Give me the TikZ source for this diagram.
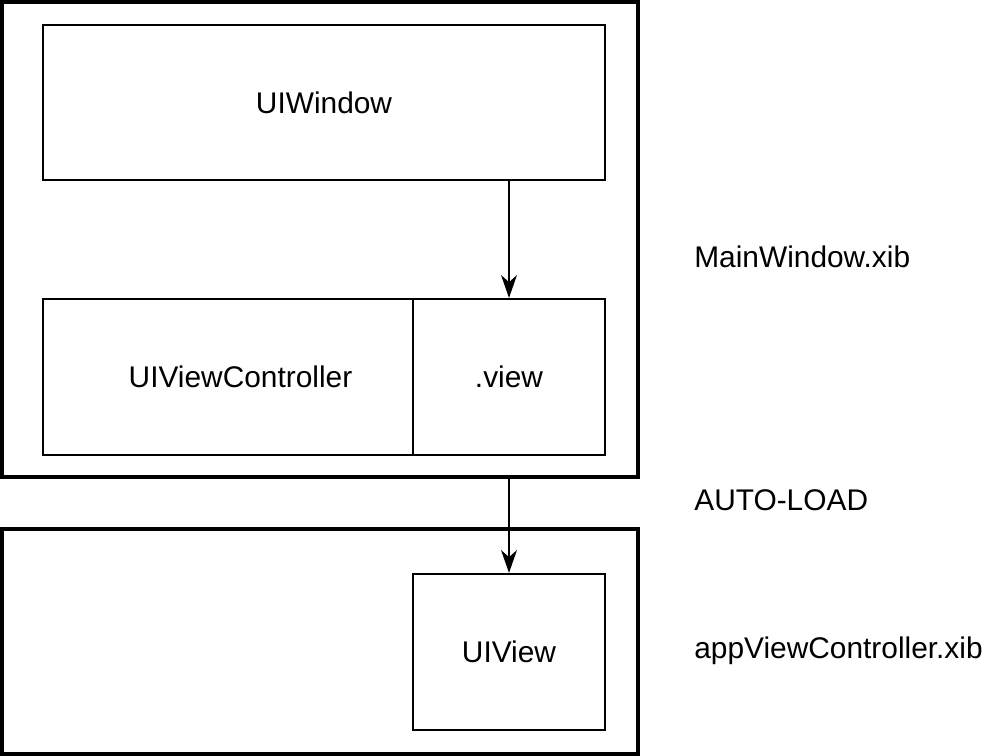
\documentclass[tikz,border=0pt]{standalone}
\usepackage{fontspec}
\setmainfont{Liberation Sans}
\usetikzlibrary{arrows.meta,calc}

\begin{document}
\begin{tikzpicture}[x=0.02cm, y=-0.02cm,
    xibbox/.style={draw, line width=2.3pt, inner sep=0pt},
    objbox/.style={draw, line width=1.2pt, inner sep=0pt, font=\fontsize{17}{20}\selectfont},
    xiblabel/.style={anchor=west, inner sep=0pt, font=\fontsize{17}{20}\selectfont},
    link/.style={draw, line width=1.2pt, -{Stealth[length=13pt,width=9pt,inset=4pt]}}]
        \useasboundingbox (0,0) rectangle (986,756);
        % xib files
        \node[xibbox, minimum width=12.72cm, minimum height=9.5cm](mainxib)at(320,239.5){};
        \node[xibbox, minimum width=12.72cm, minimum height=4.5cm](appxib)at(320,641.5){};
        % objects
        \node[objbox, minimum width=11.24cm, minimum height=3.1cm](window)at(324,102.5){\raisebox{-2pt}{UIWindow}};
        \node[objbox, minimum width=7.4cm, minimum height=3.12cm](ctrl)at(228,377){\hspace*{0.5cm}\raisebox{-2pt}{UIViewController}};
        \node[objbox, minimum width=3.84cm, minimum height=3.12cm](view)at(509,377){\raisebox{-2pt}{.view}};
        \node[objbox, minimum width=3.84cm, minimum height=3.12cm](uiview)at(509,652){UIView};
        % labels
        \node[xiblabel](mainlbl)at(694,257){MainWindow.xib};
        \node[xiblabel](autolbl)at(694,500){AUTO-LOAD};
        \node[xiblabel](applbl)at(694,651){appViewController.xib};

        \path[link](window.south -| view)to(view.north);
        \path[link](mainxib.south -| uiview)to(uiview.north);
    \end{tikzpicture}
\end{document}
